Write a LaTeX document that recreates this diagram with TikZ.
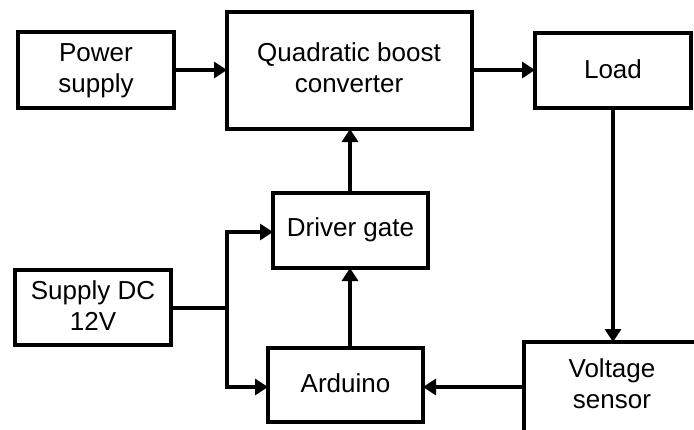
\documentclass[tikz,border=0pt]{standalone}
\usepackage{fontspec}
\setmainfont{Liberation Sans}
\usetikzlibrary{arrows.meta}
\begin{document}
\begin{tikzpicture}[x=1pt,y=-1pt,
  blk/.style={draw,line width=3.4pt,line join=miter},
  lbl/.style={align=center,font=\fontsize{26}{31}\selectfont,inner sep=0pt},
  conn/.style={line width=3.4pt,-{Triangle[length=13pt,width=16pt]}},
  wire/.style={line width=3.4pt}]
\useasboundingbox (0,0) rectangle (694,429);
\begin{scope}
\clip (0,0) rectangle (694,429);
\draw[blk] (18,32) rectangle (174,108);
\node[lbl] (ps) at (96,70.5) {Power\\supply};
\draw[blk] (227,12) rectangle (472,129);
\node[lbl] (qbc) at (349,68) {Quadratic boost\\converter};
\draw[blk] (535,33) rectangle (691,108);
\node[lbl] (load) at (613,69) {Load};
\draw[blk] (273,193) rectangle (428,268);
\node[lbl] (drv) at (350.5,230) {Driver gate};
\draw[blk] (15,270) rectangle (171,345);
\node[lbl] (sdc) at (93,306) {Supply DC\\12V};
\draw[blk] (268,348) rectangle (423,422);
\node[lbl] (ard) at (345.5,383) {Arduino};
\draw[blk] (524,342) rectangle (710,440);
\node[lbl] (vs) at (612,383.5) {Voltage\\sensor};
\end{scope}
\coordinate (psR) at (174,70);
\coordinate (qbcL) at (227,70);
\coordinate (qbcR) at (472,70);
\coordinate (loadL) at (535,70);
\coordinate (loadB) at (613,108);
\coordinate (vsT) at (613,342);
\coordinate (vsL) at (524,387);
\coordinate (ardR) at (423,387);
\coordinate (ardT) at (350,348);
\coordinate (drvB) at (350,268);
\coordinate (drvT) at (350,193);
\coordinate (qbcB) at (350,129);
\coordinate (sdcR) at (171,308);
\coordinate (jn) at (227,308);
\coordinate (drvL) at (273,232);
\coordinate (ardL) at (268,387);
\draw[conn] (psR) -- (qbcL);
\draw[conn] (qbcR) -- (loadL);
\draw[conn] (loadB) -- (vsT);
\draw[conn] (vsL) -- (ardR);
\draw[conn] (ardT) -- (drvB);
\draw[conn] (drvT) -- (qbcB);
\draw[wire] (sdcR) -- (jn);
\draw[conn] (jn) |- (drvL);
\draw[conn] (jn) |- (ardL);
\end{tikzpicture}
\end{document}
